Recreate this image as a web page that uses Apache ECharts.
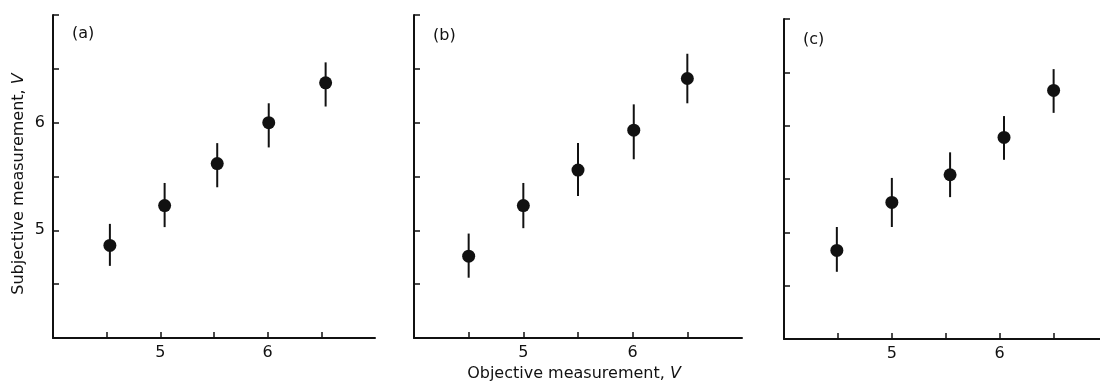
<!DOCTYPE html>
<html>
<head>
<meta charset="utf-8">
<style>
  html, body { margin: 0; padding: 0; background: #fff; }
  #chart { width: 1100px; height: 383px; }
</style>
<script src="https://cdn.jsdelivr.net/npm/echarts@6/dist/echarts.min.js"></script>
</head>
<body>
<div id="chart"></div>
<script>
// ---- Data ----
const panelLabels = ['(a)', '(b)', '(c)'];
const yTickLabels = ['5', '6'];
const xTickLabels = ['5', '6'];

// Panel (a)
const aX    = [4.53, 5.04, 5.53, 6.01, 6.54];
const aY    = [4.86, 5.23, 5.62, 6.00, 6.37];
const aHigh = [5.06, 5.44, 5.81, 6.18, 6.56];
const aLow  = [4.67, 5.03, 5.40, 5.77, 6.15];

// Panel (b)
const bX    = [4.50, 5.00, 5.50, 6.01, 6.50];
const bY    = [4.76, 5.23, 5.56, 5.93, 6.41];
const bHigh = [4.97, 5.44, 5.81, 6.17, 6.64];
const bLow  = [4.56, 5.02, 5.32, 5.66, 6.18];

// Panel (c)
const cX    = [4.49, 5.00, 5.54, 6.04, 6.50];
const cY    = [4.83, 5.28, 5.54, 5.89, 6.33];
const cHigh = [5.05, 5.51, 5.75, 6.09, 6.53];
const cLow  = [4.63, 5.05, 5.33, 5.68, 6.12];

const FONT = 'DejaVu Sans';
const INK = '#111';

const panels = [
  { x: aX, y: aY, hi: aHigh, lo: aLow },
  { x: bX, y: bY, hi: bHigh, lo: bLow },
  { x: cX, y: cY, hi: cHigh, lo: cLow }
];

const grids = [
  { left: 53,  top: 15, width: 322, height: 323 },
  { left: 414, top: 15, width: 328, height: 323 },
  { left: 784, top: 19, right: 0, height: 320 }
];
// x-axis maxima: panel (c) is cut off by the picture's right edge
const xMax = [7, 7, 6.93];

function xAxisFor(i) {
  return {
    type: 'value', gridIndex: i, min: 4, max: xMax[i], interval: 0.5,
    axisLine: { show: true, onZero: false, lineStyle: { color: INK, width: 2 } },
    axisTick: { show: true, inside: true, length: 6, lineStyle: { color: INK, width: 1.5 } },
    axisLabel: {
      show: true, margin: 7, color: INK, fontFamily: FONT, fontSize: 16,
      showMaxLabel: false,
      formatter: v => (xTickLabels.indexOf(String(v)) >= 0 ? String(v) : '')
    },
    splitLine: { show: false }
  };
}
function yAxisFor(i) {
  return {
    type: 'value', gridIndex: i, min: 4, max: 7, interval: 0.5,
    axisLine: { show: true, onZero: false, lineStyle: { color: INK, width: 2 } },
    axisTick: { show: true, inside: true, length: 6, lineStyle: { color: INK, width: 1.5 } },
    axisLabel: {
      show: i === 0, margin: 8, color: INK, fontFamily: FONT, fontSize: 16,
      formatter: v => (yTickLabels.indexOf(String(v)) >= 0 ? String(v) : '')
    },
    splitLine: { show: false }
  };
}

const series = [];
panels.forEach((p, i) => {
  const errData = p.x.map((xv, k) => [xv, p.lo[k], p.hi[k]]);
  series.push({
    type: 'custom', xAxisIndex: i, yAxisIndex: i, silent: true,
    data: errData,
    encode: { x: 0, y: [1, 2] },
    renderItem: function (params, api) {
      const lo = api.coord([api.value(0), api.value(1)]);
      const hi = api.coord([api.value(0), api.value(2)]);
      return {
        type: 'line',
        shape: { x1: lo[0], y1: lo[1], x2: hi[0], y2: hi[1] },
        style: { stroke: INK, lineWidth: 2 }
      };
    },
    z: 2
  });
  series.push({
    type: 'scatter', xAxisIndex: i, yAxisIndex: i, silent: true,
    data: p.x.map((xv, k) => [xv, p.y[k]]),
    symbol: 'circle', symbolSize: 13,
    itemStyle: { color: INK, opacity: 1 },
    z: 3
  });
});

const chart = echarts.init(document.getElementById('chart'), null, { renderer: 'canvas' });
chart.setOption({
  backgroundColor: '#ffffff',
  animation: false,
  grid: grids,
  xAxis: [0, 1, 2].map(xAxisFor),
  yAxis: [0, 1, 2].map(yAxisFor),
  series: series,
  graphic: [
    { type: 'text', left: 72, top: 26, style: { text: panelLabels[0], font: '16px "DejaVu Sans"', fill: INK } },
    { type: 'text', left: 433, top: 28, style: { text: panelLabels[1], font: '16px "DejaVu Sans"', fill: INK } },
    { type: 'text', left: 803, top: 32, style: { text: panelLabels[2], font: '16px "DejaVu Sans"', fill: INK } },
    {
      type: 'text', x: 19, y: 184, rotation: Math.PI / 2,
      style: {
        text: 'Subjective measurement, {i|V}',
        font: '16px "DejaVu Sans"', fill: INK,
        align: 'center', verticalAlign: 'middle',
        rich: { i: { fontStyle: 'italic', fontFamily: FONT, fontSize: 16, fill: INK } }
      }
    },
    {
      type: 'text', x: 574, y: 374,
      style: {
        text: 'Objective measurement, {i|V}',
        font: '16px "DejaVu Sans"', fill: INK,
        align: 'center', verticalAlign: 'middle',
        rich: { i: { fontStyle: 'italic', fontFamily: FONT, fontSize: 16, fill: INK } }
      }
    }
  ]
});
</script>
</body>
</html>
